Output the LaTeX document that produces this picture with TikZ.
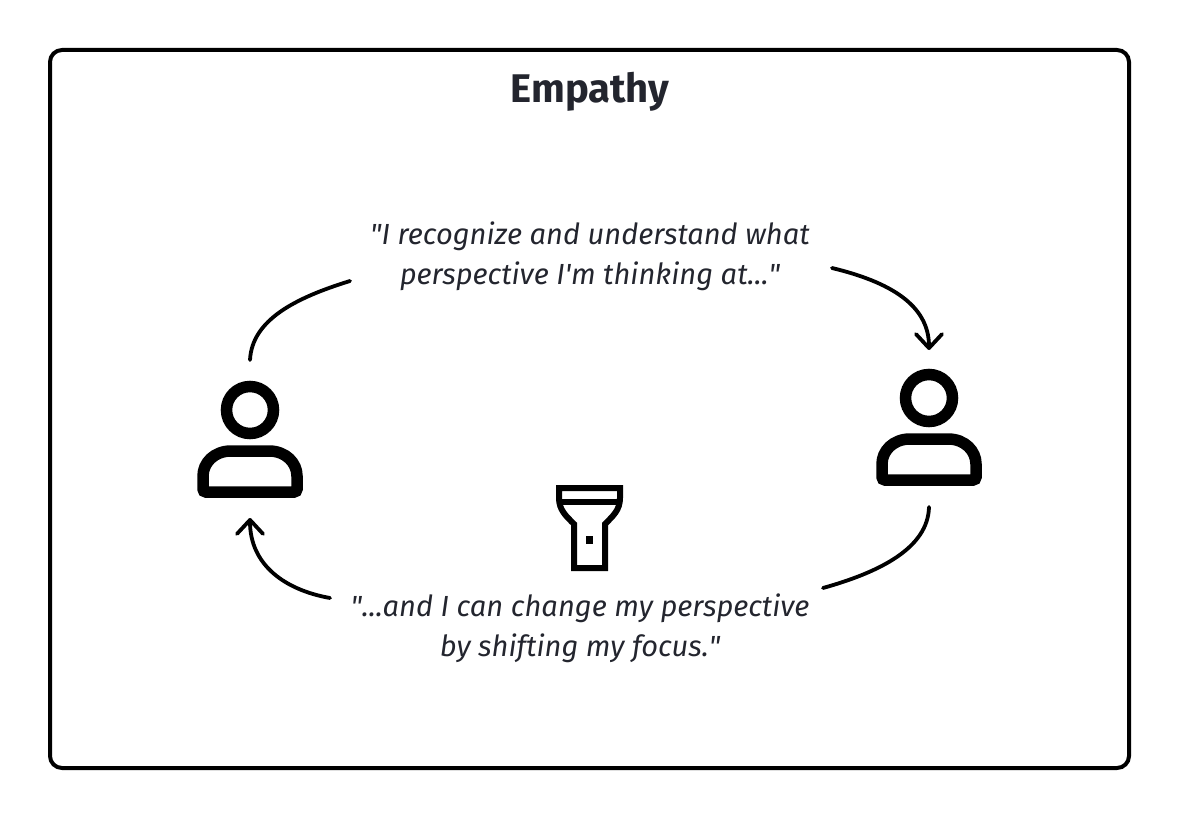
\documentclass[tikz,border=0pt]{standalone}
\usepackage{fontspec}
\setmainfont{Fira Sans}
\usetikzlibrary{arrows.meta,positioning}

\begin{document}
\begin{tikzpicture}[x=1pt,y=-1pt]
	\tikzset{
		title/.style={font=\fontsize{40}{44}\selectfont\bfseries,text=textdark},
		quote/.style={align=center,font=\fontsize{29.1}{40}\selectfont\itshape\addfontfeature{Ligatures=NoCommon},text=textdark},
		link/.style={draw,line width=3.8pt,line cap=round},
		linkhead/.style={link,-{Straight Barb[length=14pt,width=26pt,line width=3.8pt,round]}},
		person/.pic={
			\draw[line width=11.5pt] (0,-7) circle (23.5);
			\draw[line width=11.5pt,rounded corners=3pt] (-47,75) -- (-47,62) .. controls (-47,46) and (-36,34) .. (-16,34)
				-- (16,34) .. controls (36,34) and (47,46) .. (47,62) -- (47,75) -- cycle;
		}
	}
	\definecolor{textdark}{HTML}{23252E}
	\useasboundingbox (0,0) rectangle (1180,818);
	\draw[line width=4pt,rounded corners=12pt] (50,50) rectangle (1129,768);
	\node [title] (heading) at (590,92) {Empathy};
	\node [quote] (upper) at (590,256) {\textquotedbl I recognize and understand what\\perspective I\textquotesingle m thinking at...\textquotedbl};
	\node [quote] (lower) at (580,628) {\textquotedbl...and I can change my perspective\\by shifting my focus.\textquotedbl};
	\pic at (250,417) {person};
	\pic at (929,405) {person};
	% flashlight
	\draw[line width=6pt,miter limit=4] (559,488) -- (620,488) -- (620,498) .. controls (620,510) and (613,516) .. (605,524)
		-- (605,568) -- (574,568) -- (574,524) .. controls (566,516) and (559,510) .. (559,498) -- cycle;
	\draw[line width=6pt] (559,502) -- (620,502);
	\fill (586,536) rectangle (593,544);
	% connectors
	\coordinate (leftup) at (250,360);
	\coordinate (topleft) at (350,281);
	\coordinate (topright) at (832,268);
	\coordinate (rightin) at (929,350);
	\coordinate (rightdown) at (929,507);
	\coordinate (bottomright) at (823,588);
	\coordinate (bottomleft) at (330,598);
	\coordinate (leftin) at (250,518);
	\draw[link] (leftup) .. controls (252,320) and (295,298) .. (topleft);
	\draw[linkhead] (topright) .. controls (890,282) and (929,305) .. (rightin);
	\draw[link] (rightdown) .. controls (928,548) and (880,572) .. (bottomright);
	\draw[linkhead] (bottomleft) .. controls (285,590) and (250,565) .. (leftin);
\end{tikzpicture}
\end{document}
